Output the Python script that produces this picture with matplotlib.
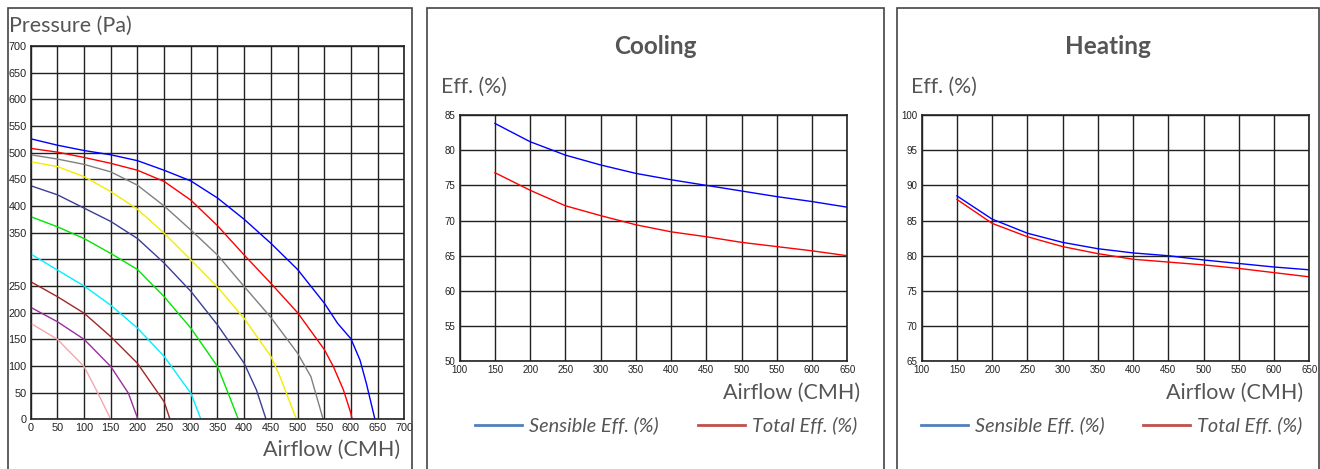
import matplotlib
matplotlib.use("Agg")
import matplotlib.pyplot as plt
from matplotlib.patches import Rectangle
from matplotlib.lines import Line2D

# --- DATA ---
# fan curves: pressure (Pa) vs airflow (CMH), one per speed step
fan_x = {
    "blue":   [0, 50, 100, 150, 200, 250, 300, 350, 400, 450, 500, 550, 575, 600, 617, 629, 645],
    "red":    [0, 50, 100, 150, 200, 250, 300, 350, 400, 450, 500, 550, 567, 586, 600, 602],
    "gray":   [0, 50, 100, 150, 200, 250, 300, 350, 400, 450, 500, 525, 548],
    "yellow": [0, 50, 100, 150, 200, 250, 300, 350, 400, 450, 467, 498],
    "navy":   [0, 50, 100, 150, 200, 250, 300, 350, 400, 423, 441],
    "green":  [0, 50, 100, 150, 200, 250, 300, 350, 370, 389],
    "cyan":   [0, 50, 100, 150, 200, 250, 300, 319],
    "brown":  [0, 50, 100, 150, 200, 250, 261],
    "purple": [0, 50, 100, 150, 183, 201],
    "pink":   [0, 50, 100, 126, 150],
}
fan_p = {
    "blue":   [526, 514, 504, 496, 485, 467, 447, 415, 375, 330, 281, 218, 180, 151, 111, 67, 0],
    "red":    [508, 501, 491, 480, 467, 446, 411, 363, 308, 255, 200, 131, 99, 55, 11, 0],
    "gray":   [496, 488, 478, 464, 439, 400, 355, 308, 249, 191, 124, 80, 0],
    "yellow": [483, 474, 455, 427, 394, 349, 299, 248, 189, 118, 80, 0],
    "navy":   [438, 421, 396, 371, 339, 293, 240, 177, 105, 55, 0],
    "green":  [380, 361, 339, 311, 281, 230, 171, 99, 49, 0],
    "cyan":   [310, 280, 250, 214, 171, 118, 49, 0],
    "brown":  [258, 230, 199, 155, 105, 33, 0],
    "purple": [210, 183, 150, 99, 49, 0],
    "pink":   [180, 150, 99, 49, 0],
}
fan_colors = {
    "blue": "#0000ff", "red": "#ff0000", "gray": "#808080", "yellow": "#f5ec00",
    "navy": "#3a3f96", "green": "#00e600", "cyan": "#00f0ff", "brown": "#a02828",
    "purple": "#9a2f9a", "pink": "#f4a6ad",
}

eff_x = [150, 200, 250, 300, 350, 400, 450, 500, 550, 600, 650]
cool_sensible = [83.8, 81.2, 79.3, 77.9, 76.7, 75.8, 75.0, 74.2, 73.4, 72.7, 71.9]
cool_total = [76.8, 74.3, 72.1, 70.7, 69.4, 68.4, 67.7, 66.9, 66.3, 65.7, 65.0]
heat_sensible = [88.5, 85.2, 83.2, 81.9, 81.0, 80.4, 80.0, 79.4, 78.9, 78.4, 78.0]
heat_total = [88.0, 84.6, 82.7, 81.3, 80.3, 79.5, 79.1, 78.7, 78.2, 77.6, 77.0]

fan_xticks = list(range(0, 701, 50))
fan_yticks = list(range(0, 701, 50))
fan_ylabels = [str(v) if v != 300 else "" for v in fan_yticks]
eff_xticks = list(range(100, 651, 50))

# --- STYLE ---
W, H = 1320, 469
TXT = "#555555"
FONT = ["Lato", "DejaVu Sans"]
TICKFONT = ["Liberation Sans", "DejaVu Sans"]

fig = plt.figure(figsize=(W / 100, H / 100), dpi=100)


def px_axes(x0, y0, x1, y1):
    # pixel box (top-left origin) -> figure axes
    return fig.add_axes([x0 / W, 1 - y1 / H, (x1 - x0) / W, (y1 - y0) / H])


def panel_box(x0, y0, x1, y1):
    fig.patches.append(Rectangle((x0 / W, 1 - y1 / H), (x1 - x0) / W, (y1 - y0) / H,
                                 transform=fig.transFigure, fill=False,
                                 edgecolor="#444444", linewidth=1.2))


def style_grid(ax, size):
    ax.grid(True, color="#222222", linewidth=1.0)
    ax.set_axisbelow(True)
    ax.tick_params(length=0, labelsize=size, colors="#222222", pad=3)
    for lab in ax.get_xticklabels() + ax.get_yticklabels():
        lab.set_family(TICKFONT)
    for s in ax.spines.values():
        s.set_color("#222222")
        s.set_linewidth(1.2)


def fig_text(x, y, s, **kw):
    fig.text(x / W, 1 - y / H, s, family=FONT, color=TXT, **kw)


# --- PANEL 1: fan curves ---
panel_box(8, 8, 412, 475)
ax1 = px_axes(30.7, 46, 404.3, 419.3)
for key in fan_x:
    ax1.plot(fan_x[key], fan_p[key], color=fan_colors[key], linewidth=1.0)
ax1.set_xlim(0, 700)
ax1.set_ylim(0, 700)
ax1.set_xticks(fan_xticks)
ax1.set_yticks(fan_yticks)
ax1.set_yticklabels(fan_ylabels)
style_grid(ax1, 7.8)
fig_text(9, 26, "Pressure (Pa)", fontsize=15.5, ha="left", va="center")
fig_text(400, 450, "Airflow (CMH)", fontsize=15.5, ha="right", va="center")

# --- PANELS 2 & 3: efficiency ---
def eff_panel(box, axbox, title, ylim, sens, tot, leg_x, airflow_right):
    panel_box(*box)
    ax = px_axes(*axbox)
    ax.plot(eff_x, sens, color="#0000ff", linewidth=1.0)
    ax.plot(eff_x, tot, color="#ff0000", linewidth=1.0)
    ax.set_xlim(100, 650)
    ax.set_ylim(*ylim)
    ax.set_xticks(eff_xticks)
    ax.set_yticks(range(ylim[0], ylim[1] + 1, 5))
    style_grid(ax, 7)
    cx = (box[0] + box[2]) / 2
    fig_text(cx, 46, title, fontsize=17.5, fontweight="bold", ha="center", va="center")
    fig_text(box[0] + 14, 87, "Eff. (%)", fontsize=15.3, ha="left", va="center")
    fig_text(airflow_right, 393, "Airflow (CMH)", fontsize=15.5, ha="right", va="center")
    # legend
    for lx, col, lab in [(leg_x[0], "#4f81bd", "Sensible Eff. (%)"),
                         (leg_x[1], "#c0504d", "Total Eff. (%)")]:
        fig.add_artist(Line2D([lx / W, (lx + 47) / W], [1 - 425 / H, 1 - 425 / H],
                              transform=fig.transFigure, color=col, linewidth=2))
        fig_text(lx + 54, 425, lab, fontsize=14.3, fontstyle="italic",
                 ha="left", va="center")
    return ax


eff_panel((427, 8, 884, 475), (459.7, 115, 847.3, 361.3), "Cooling", (50, 85),
          cool_sensible, cool_total, (475, 698), 860)
eff_panel((897, 8, 1319, 475), (921.7, 115, 1309.3, 361.3), "Heating", (65, 100),
          heat_sensible, heat_total, (921, 1143), 1303)

fig.savefig("out.png", dpi=100)
